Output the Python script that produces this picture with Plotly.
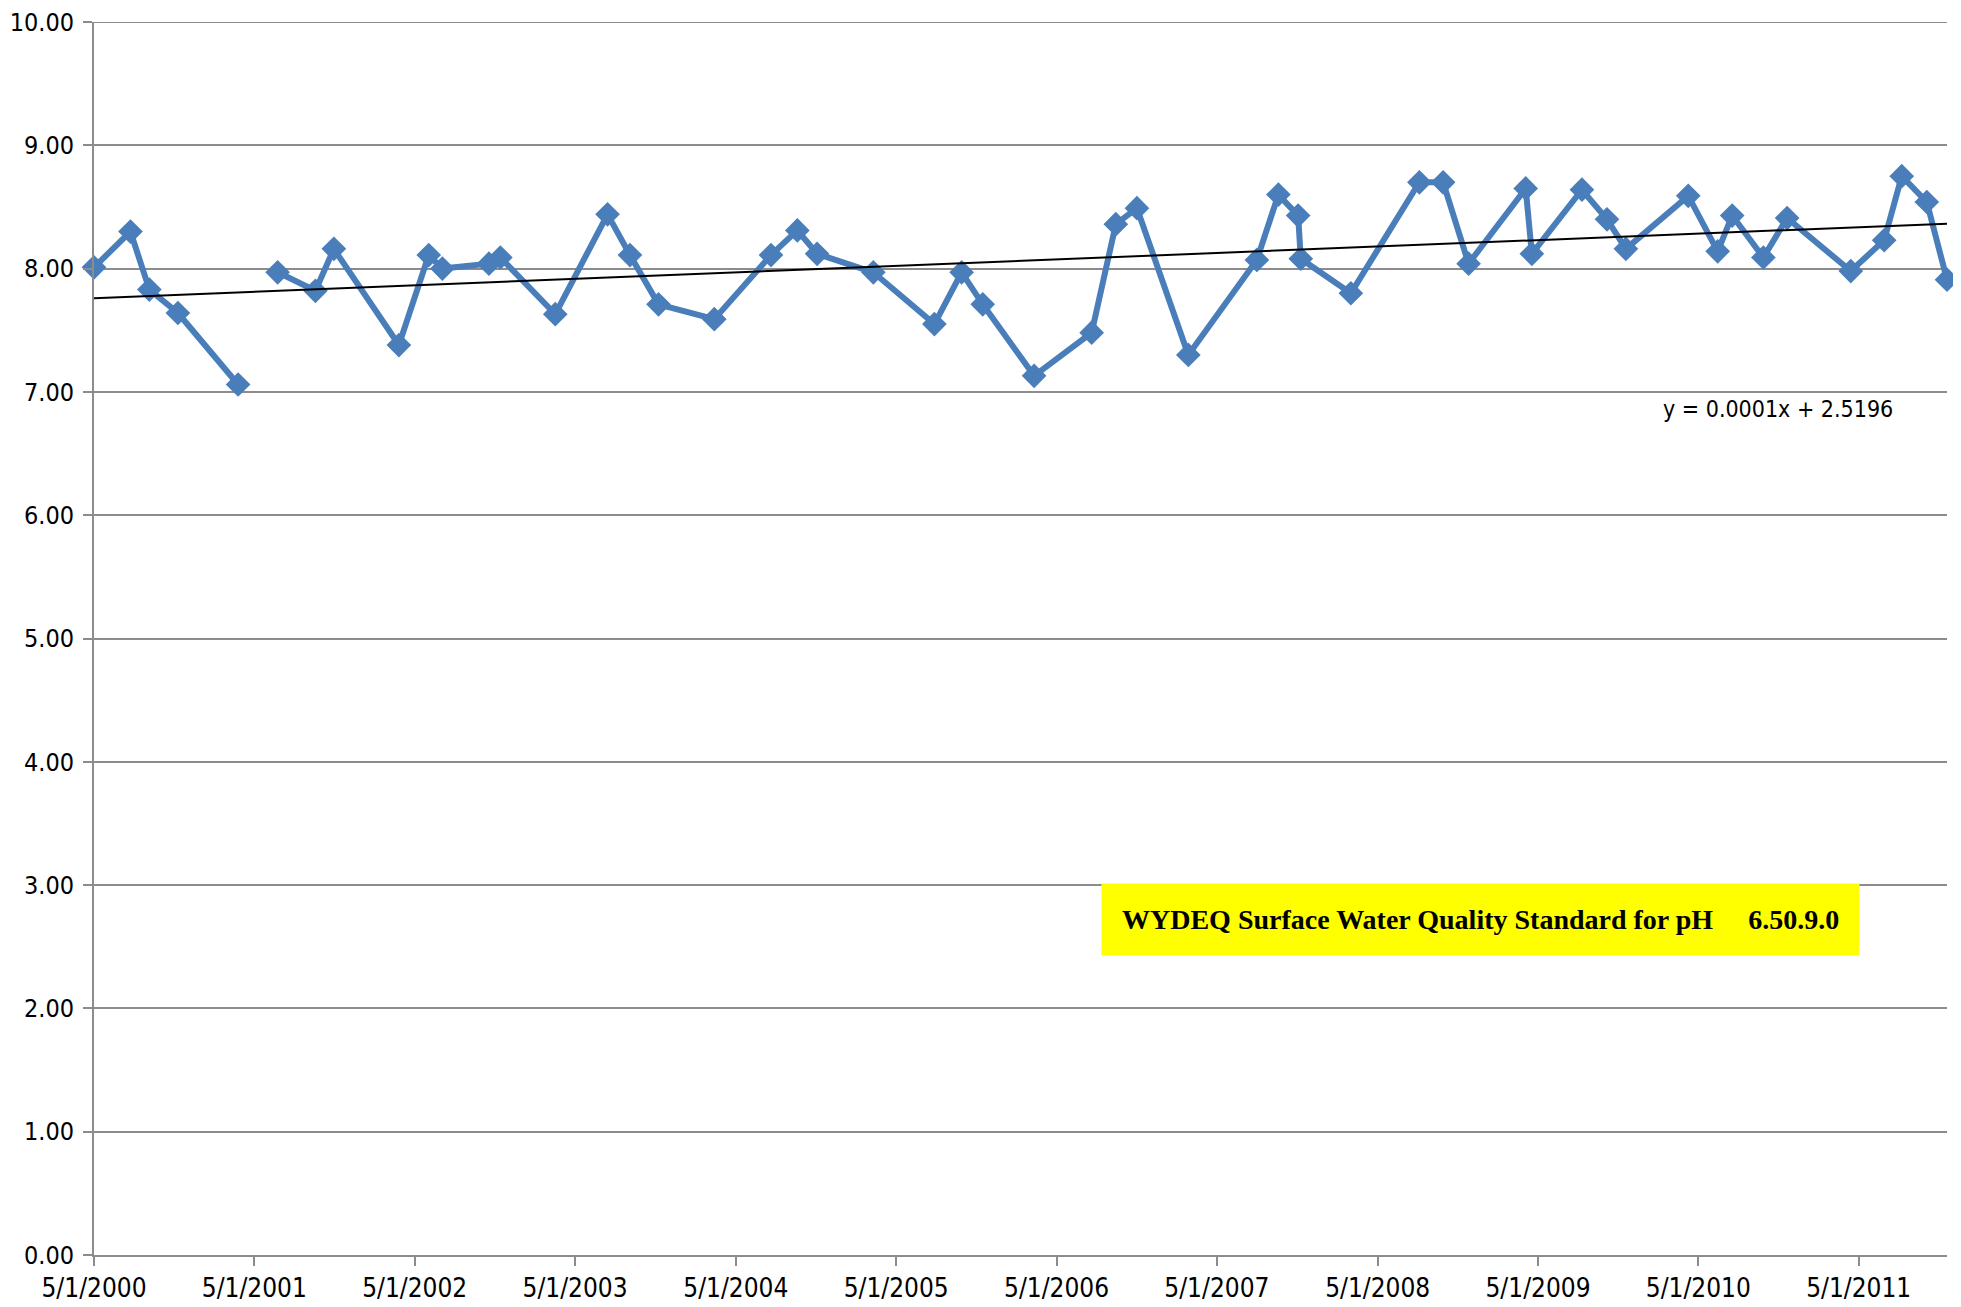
import plotly.graph_objects as go
import numpy as np
import pandas as pd

# Sample dates (None value = gap in the line)
dates = [
    "2000-05-01", "2000-07-23", "2000-09-04", "2000-11-08", "2001-03-25",
    "2001-05-01",
    "2001-06-23", "2001-09-17", "2001-10-29", "2002-03-26", "2002-06-02",
    "2002-07-03", "2002-10-17", "2002-11-12", "2003-03-17", "2003-07-14",
    "2003-09-03", "2003-11-07", "2004-03-13", "2004-07-20", "2004-09-18",
    "2004-11-02", "2005-03-10", "2005-07-27", "2005-09-27", "2005-11-14",
    "2006-03-11", "2006-07-20", "2006-09-13", "2006-10-31", "2007-02-25",
    "2007-07-31", "2007-09-18", "2007-11-02", "2007-11-08", "2008-03-01",
    "2008-08-04", "2008-09-27", "2008-11-24", "2009-04-03", "2009-04-17",
    "2009-08-09", "2009-10-05", "2009-11-17", "2010-04-08", "2010-06-14",
    "2010-07-17", "2010-09-26", "2010-11-19", "2011-04-13", "2011-06-28",
    "2011-08-07", "2011-10-03", "2011-11-18",
]
ph_values = [
    8.01, 8.30, 7.83, 7.64, 7.06,
    None,
    7.97, 7.82, 8.16, 7.38, 8.11,
    8.00, 8.04, 8.09, 7.63, 8.44,
    8.11, 7.71, 7.59, 8.11, 8.31,
    8.12, 7.97, 7.55, 7.97, 7.71,
    7.13, 7.48, 8.36, 8.49, 7.30,
    8.07, 8.60, 8.43, 8.08, 7.80,
    8.70, 8.70, 8.04, 8.65, 8.12,
    8.64, 8.40, 8.16, 8.59, 8.14,
    8.43, 8.09, 8.41, 7.98, 8.23,
    8.75, 8.54, 7.91,
]

tick_dates = ["2000-05-01", "2001-05-01", "2002-05-01", "2003-05-01", "2004-05-01",
              "2005-05-01", "2006-05-01", "2007-05-01", "2008-05-01", "2009-05-01",
              "2010-05-01", "2011-05-01"]
tick_labels = ["5/1/2000", "5/1/2001", "5/1/2002", "5/1/2003", "5/1/2004",
               "5/1/2005", "5/1/2006", "5/1/2007", "5/1/2008", "5/1/2009",
               "5/1/2010", "5/1/2011"]
y_ticks = [0, 1, 2, 3, 4, 5, 6, 7, 8, 9, 10]

equation_text = "y = 0.0001x + 2.5196"
standard_text = "WYDEQ Surface Water Quality Standard for pH&nbsp;&nbsp;&nbsp;&nbsp;&nbsp;6.50.9.0"

# Linear trend (Excel-style, on serial dates)
dt = pd.to_datetime(dates)
serial = np.array([(d - pd.Timestamp("1899-12-30")).days for d in dt], dtype=float)
mask = np.array([v is not None for v in ph_values])
vals = np.array([v if v is not None else np.nan for v in ph_values], dtype=float)
slope, intercept = np.polyfit(serial[mask], vals[mask], 1)
trend_x = [dates[0], dates[-1]]
trend_y = [slope * serial[0] + intercept, slope * serial[-1] + intercept]

axis_font = dict(family="Liberation Sans Narrow, DejaVu Sans Condensed, Arial Narrow, sans-serif",
                 size=26, color="#000000")
grid_col = "#8c8c8c"

fig = go.Figure()
fig.add_trace(go.Scatter(
    x=dates, y=ph_values, mode="lines+markers", connectgaps=False,
    line=dict(color="#4A7EBB", width=6),
    marker=dict(symbol="diamond", size=19, color="#4A7EBB"),
    showlegend=False, cliponaxis=False,
))
fig.add_trace(go.Scatter(
    x=trend_x, y=trend_y, mode="lines",
    line=dict(color="#000000", width=2),
    showlegend=False,
))

# top gridline (at the axis maximum)
fig.add_shape(type="line", xref="paper", x0=0, x1=1, yref="y", y0=y_ticks[-1], y1=y_ticks[-1],
              line=dict(color=grid_col, width=2), layer="below")

fig.add_annotation(
    x=1.0, xref="paper", xanchor="right", xshift=-52,
    y=6.98, yref="y", yanchor="top",
    text=equation_text, showarrow=False, font=dict(axis_font, size=23),
)
fig.add_annotation(
    x=0.5437, xref="paper", xanchor="left",
    y=2.72, yref="y", yanchor="middle",
    text="<b>" + standard_text + "</b>", showarrow=False,
    font=dict(family="Liberation Serif, DejaVu Serif, serif", size=28, color="#000000"),
    bgcolor="#FFFF00", borderpad=20, align="left",
)

fig.update_layout(
    width=1961, height=1307,
    margin=dict(l=86, r=22, t=14, b=60),
    plot_bgcolor="#ffffff", paper_bgcolor="#ffffff",
    font=axis_font,
)
fig.update_xaxes(
    type="date", range=[dates[0], dates[-1]], automargin=False,
    tickvals=tick_dates, ticktext=tick_labels, ticklabeloverflow="allow",
    showgrid=False, showline=True, linecolor=grid_col, linewidth=2,
    ticks="outside", ticklen=9, tickwidth=2, tickcolor=grid_col,
    ticklabelstandoff=0, tickfont=axis_font, zeroline=False,
)
fig.update_yaxes(
    range=[0, 10], tickvals=y_ticks, tickformat=".2f", automargin=False,
    ticklabeloverflow="allow",
    showgrid=True, gridcolor=grid_col, gridwidth=2,
    showline=True, linecolor=grid_col, linewidth=2, mirror=False,
    ticks="outside", ticklen=9, tickwidth=2, tickcolor=grid_col,
    ticklabelstandoff=4, tickfont=dict(axis_font, size=25), zeroline=False,
)

fig.write_html("out.html")
